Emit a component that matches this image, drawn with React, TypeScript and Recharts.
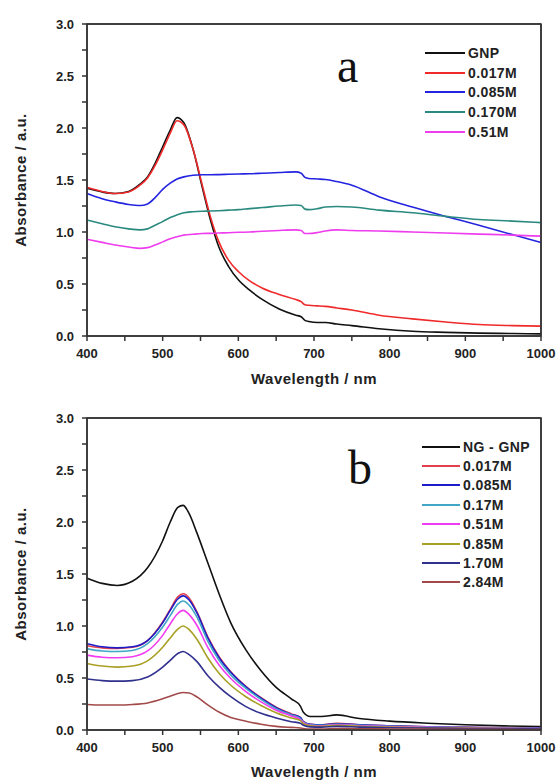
import React from "react";
import { Label, Legend, Line, LineChart, ReferenceArea, XAxis, YAxis } from "recharts";

// ---- panel a: GNP series ----
const wavelengthsA = [
  400, 420, 437, 455, 470, 480, 490, 500, 510, 519, 528, 540, 552, 563, 574, 587, 600,
  615, 632, 654, 676, 683, 688, 693, 705, 715, 730, 750, 786, 830, 874, 918, 962, 1000,
];
const gnpA = [
  1.42, 1.385, 1.37, 1.39, 1.46, 1.53, 1.66, 1.82, 1.98, 2.1, 2.05, 1.8, 1.44, 1.12, 0.86,
  0.67, 0.54, 0.44, 0.35, 0.26, 0.2, 0.185, 0.15, 0.14, 0.13, 0.13, 0.115, 0.1, 0.07, 0.045,
  0.035, 0.028, 0.024, 0.02,
];
const m0017A = [
  1.43, 1.39, 1.37, 1.385, 1.45, 1.52, 1.64, 1.79, 1.95, 2.07, 2.03, 1.8, 1.46, 1.15, 0.91,
  0.73, 0.62, 0.53, 0.46, 0.4, 0.35, 0.33, 0.3, 0.295, 0.29, 0.285, 0.27, 0.25, 0.2, 0.165,
  0.135, 0.11, 0.1, 0.095,
];
const m0085A = [
  1.37, 1.32, 1.29, 1.265, 1.255, 1.27, 1.33, 1.41, 1.47, 1.51, 1.53, 1.545, 1.55, 1.55,
  1.552, 1.555, 1.558, 1.56, 1.565, 1.572, 1.578, 1.565, 1.525, 1.515, 1.51, 1.505, 1.485,
  1.45, 1.34, 1.24, 1.15, 1.065, 0.975, 0.9,
];
const m0170A = [
  1.115, 1.08, 1.05, 1.03, 1.02, 1.03, 1.065, 1.1, 1.14, 1.165, 1.185, 1.195, 1.2, 1.202,
  1.205, 1.21, 1.215, 1.225, 1.235, 1.25, 1.26, 1.255, 1.22, 1.215, 1.225, 1.24, 1.245, 1.24,
  1.21, 1.185, 1.15, 1.12, 1.105, 1.09,
];
const m051A = [
  0.93, 0.9, 0.875, 0.855, 0.843, 0.85, 0.875, 0.905, 0.935, 0.955, 0.97, 0.978, 0.985, 0.987,
  0.99, 0.993, 0.997, 1.0, 1.007, 1.015, 1.02, 1.015, 0.985, 0.985, 0.995, 1.01, 1.02, 1.015,
  1.01, 1.0, 0.99, 0.98, 0.97, 0.96,
];

// ---- panel b: NG-GNP series ----
const wavelengthsB = [
  400, 420, 440, 460, 480, 500, 510, 520, 527, 535, 545, 560, 575, 590, 610, 630, 650, 670,
  682, 686, 695, 710, 730, 760, 800, 850, 900, 950, 1000,
];
const ngGnpB = [
  1.46, 1.41, 1.39, 1.43, 1.56, 1.82, 2.0, 2.14, 2.16, 2.08, 1.9, 1.6, 1.3, 1.03, 0.77, 0.57,
  0.41, 0.3, 0.23, 0.17, 0.13, 0.13, 0.145, 0.11, 0.085, 0.065, 0.05, 0.04, 0.033,
];
const m0017B = [
  0.81, 0.79, 0.785, 0.795, 0.86, 1.04, 1.16, 1.28, 1.31, 1.27, 1.14, 0.89, 0.7, 0.56, 0.42,
  0.31, 0.22, 0.155, 0.12, 0.08, 0.055, 0.05, 0.065, 0.05, 0.04, 0.03, 0.025, 0.02, 0.018,
];
const m0085B = [
  0.83, 0.8, 0.79, 0.8, 0.86, 1.03, 1.15, 1.26, 1.29, 1.25, 1.13, 0.88, 0.69, 0.555, 0.415,
  0.305, 0.215, 0.15, 0.12, 0.08, 0.055, 0.05, 0.06, 0.05, 0.04, 0.03, 0.025, 0.02, 0.018,
];
const m017B = [
  0.78, 0.76, 0.755, 0.765, 0.83, 0.99, 1.1, 1.21, 1.24, 1.2, 1.09, 0.85, 0.665, 0.53, 0.4,
  0.295, 0.205, 0.145, 0.11, 0.075, 0.05, 0.045, 0.055, 0.045, 0.035, 0.028, 0.022, 0.018, 0.015,
];
const m051B = [
  0.72, 0.7, 0.695, 0.705, 0.76, 0.91, 1.02, 1.12, 1.15, 1.11, 1.01, 0.79, 0.62, 0.495, 0.37,
  0.27, 0.19, 0.135, 0.1, 0.07, 0.045, 0.04, 0.05, 0.04, 0.032, 0.025, 0.02, 0.016, 0.014,
];
const m085B = [
  0.64, 0.615, 0.605, 0.615, 0.665, 0.795, 0.885, 0.97, 1.0, 0.965, 0.875, 0.69, 0.54, 0.43,
  0.32, 0.235, 0.165, 0.115, 0.09, 0.06, 0.04, 0.035, 0.045, 0.035, 0.028, 0.022, 0.018, 0.015,
  0.012,
];
const m170B = [
  0.49, 0.475, 0.47, 0.475, 0.51, 0.605, 0.67, 0.735, 0.755, 0.725, 0.66, 0.52, 0.41, 0.32,
  0.225, 0.16, 0.115, 0.08, 0.065, 0.045, 0.03, 0.028, 0.035, 0.028, 0.022, 0.018, 0.015, 0.012,
  0.01,
];
const m284B = [
  0.245, 0.24, 0.24, 0.245, 0.26, 0.3, 0.325, 0.35, 0.36, 0.355, 0.32, 0.24, 0.17, 0.12, 0.085,
  0.055, 0.035, 0.025, 0.02, 0.015, 0.01, 0.01, 0.015, 0.012, 0.01, 0.008, 0.007, 0.006, 0.005,
];

// ---- axes ----
const xTicks = [400, 450, 500, 550, 600, 650, 700, 750, 800, 850, 900, 950, 1000];
const xTopTicks = [460, 520, 580, 640, 700, 760, 820, 880, 940];
const yTicks = [0, 0.25, 0.5, 0.75, 1, 1.25, 1.5, 1.75, 2, 2.25, 2.5, 2.75, 3];
const yRightTicks = [0.3, 0.6, 0.9, 1.2, 1.5, 1.8, 2.1, 2.4, 2.7];

type Series = { key: string; name: string; color: string; values: number[] };

const seriesA: Series[] = [
  { key: "gnp", name: "GNP", color: "#111111", values: gnpA },
  { key: "m0017", name: "0.017M", color: "#f02a2a", values: m0017A },
  { key: "m0085", name: "0.085M", color: "#2424e0", values: m0085A },
  { key: "m0170", name: "0.170M", color: "#2a8a80", values: m0170A },
  { key: "m051", name: "0.51M", color: "#ee3cee", values: m051A },
];

const seriesB: Series[] = [
  { key: "ng", name: "NG - GNP", color: "#111111", values: ngGnpB },
  { key: "m0017", name: "0.017M", color: "#e2404e", values: m0017B },
  { key: "m0085", name: "0.085M", color: "#1c1cc8", values: m0085B },
  { key: "m017", name: "0.17M", color: "#42a6c6", values: m017B },
  { key: "m051", name: "0.51M", color: "#f23cf2", values: m051B },
  { key: "m085", name: "0.85M", color: "#a8a024", values: m085B },
  { key: "m170", name: "1.70M", color: "#30308e", values: m170B },
  { key: "m284", name: "2.84M", color: "#a24a4a", values: m284B },
];

function buildRows(wl: number[], series: Series[]) {
  return wl.map((w, i) => {
    const row: Record<string, number> = { w };
    series.forEach((s) => {
      row[s.key] = s.values[i];
    });
    return row;
  });
}

const sans = "'Liberation Sans', Arial, sans-serif";
const tickStyle = { fontFamily: sans, fontSize: 13, fontWeight: 700, fill: "#222" };
const titleStyle = {
  fontFamily: sans,
  fontSize: 15,
  fontWeight: 700,
  fill: "#222",
  letterSpacing: 0.5,
};
const axisLine = { stroke: "#333", strokeWidth: 1.5 };

const PLOT_LEFT = 87;
const PLOT_H = 312;

interface PanelProps {
  height: number;
  marginTop: number;
  wl: number[];
  series: Series[];
  letter: string;
  letterLeft: number;
  letterTop: number;
  legendLeft: number;
  legendTop: number;
  rowH: number;
  lineW: number;
}

function Panel(p: PanelProps) {
  const data = buildRows(p.wl, p.series);
  const xAxisH = p.height - p.marginTop - PLOT_H;

  const renderLegend = () => (
    <div style={{ fontFamily: sans, fontSize: 14, fontWeight: 700, color: "#222" }}>
      {p.series.map((s) => (
        <div
          key={s.key}
          style={{ height: p.rowH, display: "flex", alignItems: "center", letterSpacing: 0.4 }}
        >
          <span
            style={{ width: p.lineW, height: 2, background: s.color, marginRight: 3 }}
          />
          <span>{s.name}</span>
        </div>
      ))}
    </div>
  );

  return (
    <div style={{ position: "relative", width: 560, height: p.height }}>
      <LineChart
        width={560}
        height={p.height}
        data={data}
        margin={{ top: p.marginTop - 1, right: 18, bottom: 0, left: 0 }}
      >
        <XAxis
          dataKey="w"
          type="number"
          domain={[400, 1000]}
          ticks={xTicks}
          interval={0}
          height={xAxisH}
          tick={tickStyle}
          tickFormatter={(v: number) => (v % 100 === 0 ? String(v) : "")}
          tickSize={5}
          tickMargin={8}
          axisLine={axisLine}
          tickLine={axisLine}
        >
          <Label
            value="Wavelength / nm"
            position="insideBottom"
            offset={6}
            style={titleStyle}
          />
        </XAxis>
        <XAxis
          xAxisId="top"
          orientation="top"
          dataKey="w"
          type="number"
          domain={[400, 1000]}
          ticks={xTopTicks}
          interval={0}
          height={1}
          tick={false}
          tickSize={-5}
          axisLine={axisLine}
          tickLine={axisLine}
        />
        <YAxis
          type="number"
          domain={[0, 3]}
          ticks={yTicks}
          interval={0}
          width={PLOT_LEFT}
          tick={tickStyle}
          tickFormatter={(v: number) => ((v * 2) % 1 === 0 ? v.toFixed(1) : "")}
          tickSize={5}
          tickMargin={8}
          axisLine={axisLine}
          tickLine={axisLine}
        >
          <Label
            value="Absorbance / a.u."
            angle={-90}
            position="insideLeft"
            offset={21}
            style={{ ...titleStyle, textAnchor: "middle" }}
          />
        </YAxis>
        <YAxis
          yAxisId="right"
          orientation="right"
          type="number"
          domain={[0, 3]}
          ticks={yRightTicks}
          interval={0}
          width={1}
          tick={false}
          tickSize={-5}
          axisLine={axisLine}
          tickLine={axisLine}
        />
        {/* box around the plot area, drawn through the axes' own scales */}
        <ReferenceArea
          x1={400}
          x2={1000}
          y1={0}
          y2={3}
          fill="none"
          fillOpacity={0}
          stroke="#333"
          strokeWidth={1.5}
          ifOverflow="visible"
        />
        <Legend
          layout="vertical"
          align="center"
          verticalAlign="middle"
          content={renderLegend}
          wrapperStyle={{ left: p.legendLeft, top: p.legendTop, width: 115 }}
        />
        {p.series.map((s) => (
          <Line
            key={s.key}
            dataKey={s.key}
            name={s.name}
            type="monotone"
            stroke={s.color}
            strokeWidth={1.6}
            dot={false}
            isAnimationActive={false}
          />
        ))}
      </LineChart>
      <div
        style={{
          position: "absolute",
          left: p.letterLeft,
          top: p.letterTop,
          fontFamily: "'Liberation Serif', 'Times New Roman', serif",
          fontSize: 48,
          lineHeight: "48px",
          color: "#111",
        }}
      >
        {p.letter}
      </div>
    </div>
  );
}

export default function App() {
  return (
    <div style={{ position: "absolute", left: 0, top: 0, width: 560, height: 783 }}>
      <Panel
        height={390}
        marginTop={24}
        wl={wavelengthsA}
        series={seriesA}
        letter="a"
        letterLeft={337}
        letterTop={42}
        legendLeft={425}
        legendTop={43}
        rowH={19.8}
        lineW={40}
      />
      <Panel
        height={393}
        marginTop={28}
        wl={wavelengthsB}
        series={seriesB}
        letter="b"
        letterLeft={348}
        letterTop={54}
        legendLeft={422}
        legendTop={47}
        rowH={19.4}
        lineW={38}
      />
    </div>
  );
}
